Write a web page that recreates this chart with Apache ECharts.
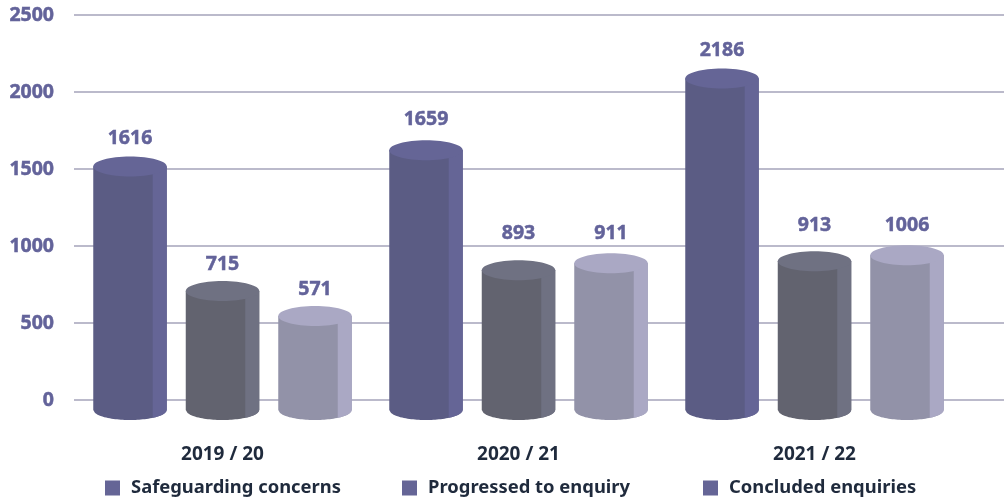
<!DOCTYPE html>
<html>
<head>
<meta charset="utf-8">
<style>html,body{margin:0;padding:0;background:#fff}#c{width:1004px;height:499px}</style>
<script src="https://cdn.jsdelivr.net/npm/echarts@6/dist/echarts.min.js"></script>
</head>
<body>
<div id="c"></div>
<script>
const categories = ['2019 / 20', '2020 / 21', '2021 / 22'];
const yTicks = { min: 0, max: 2500, interval: 500 };
const seriesNames = ['Safeguarding concerns', 'Progressed to enquiry', 'Concluded enquiries'];
// Printed value labels
const safeguardingLabels = [1616, 1659, 2186];
const progressedLabels = [715, 893, 913];
const concludedLabels = [571, 911, 1006];
// Drawn cylinder heights read against the axis (the picture's tops differ from its labels)
const safeguardingHeights = [1517, 1621, 2088];
const progressedHeights = [707, 843, 901];
const concludedHeights = [545, 888, 940];

const FONT = '"Noto Sans", sans-serif';
const LABEL = '#63639a';
const styles = [
  { dark: '#5b5c84', light: '#656596', offset: -0.3125, legend: '#656596', labelGaps: [27.5, 30.5, 28] },
  { dark: '#62636f', light: '#6f7182', offset: 0, legend: '#656596', labelGaps: [26.5, 36.5, 35.5] },
  { dark: '#9292a8', light: '#aaa8c4', offset: 0.3125, legend: '#656596', labelGaps: [26.5, 29.5, 29.5] }
];

function arcPoints(cx, cy, rx, ry, x0, x1) {
  const pts = [];
  const n = 40;
  for (let i = 0; i <= n; i++) {
    const x = x0 + (x1 - x0) * i / n;
    const t = Math.max(0, 1 - Math.pow((x - cx) / rx, 2));
    pts.push([x, cy + ry * Math.sqrt(t)]);
  }
  return pts;
}

function cylinder(style) {
  return function (params, api) {
    const band = api.size([1, 0])[0];
    const p = api.coord([api.value(0), api.value(1)]);
    const base = api.coord([api.value(0), 0]);
    const cx = p[0] + style.offset * band;
    const rx = 36.75, ry = 10;
    const topY = p[1], botY = base[1] + 10;
    const left = cx - rx, right = cx + rx, stripX = right - 14;
    const body = [[left, topY]].concat(arcPoints(cx, botY, rx, ry, left, right), [[right, topY]]);
    const strip = [[stripX, topY]].concat(arcPoints(cx, botY, rx, ry, stripX, right), [[right, topY]]);
    return {
      type: 'group',
      children: [
        { type: 'polygon', shape: { points: body }, style: { fill: style.dark } },
        { type: 'polygon', shape: { points: strip }, style: { fill: style.light } },
        { type: 'ellipse', shape: { cx: cx, cy: topY, rx: rx, ry: ry }, style: { fill: style.light } },
        { type: 'text', style: {
            x: cx, y: topY - style.labelGaps[params.dataIndex], text: String(api.value(2)),
            fill: LABEL, fontWeight: 'bold', fontSize: 19.5, fontFamily: FONT,
            stroke: LABEL, lineWidth: 0.5,
            align: 'center', verticalAlign: 'middle'
        } }
      ]
    };
  };
}

const heights = [safeguardingHeights, progressedHeights, concludedHeights];
const labels = [safeguardingLabels, progressedLabels, concludedLabels];
const legendLefts = [105, 402, 703];

const option = {
  animation: false,
  backgroundColor: '#fff',
  textStyle: { fontFamily: FONT },
  grid: [
    { left: 74, right: 0, top: 15, bottom: 99 },
    { left: 74.5, width: 888, top: 15, bottom: 99 }
  ],
  xAxis: [
    { type: 'value', gridIndex: 0, show: false, min: 0, max: 1 },
    { type: 'category', gridIndex: 1, data: categories,
      axisLine: { show: false }, axisTick: { show: false },
      axisLabel: { margin: 45, color: '#1f2a3c', fontSize: 19, fontWeight: 'bold', fontFamily: FONT } }
  ],
  yAxis: [
    { type: 'value', gridIndex: 0, min: yTicks.min, max: yTicks.max, interval: yTicks.interval,
      axisLine: { show: false }, axisTick: { show: false },
      splitLine: { show: true, lineStyle: { color: '#a5a3ba', width: 1.5 } },
      axisLabel: { margin: 20, color: LABEL, fontSize: 19.5, fontWeight: 'bold', fontFamily: FONT,
        textBorderColor: LABEL, textBorderWidth: 0.5,
        formatter: function (v) { return String(v); } } },
    { type: 'value', gridIndex: 1, show: false, min: yTicks.min, max: yTicks.max, interval: yTicks.interval,
      splitLine: { show: false } }
  ],
  legend: seriesNames.map((n, i) => ({
    data: [n], left: legendLefts[i], top: 479, orient: 'horizontal',
    icon: 'rect', itemWidth: 15, itemHeight: 15, itemGap: 0, padding: 0,
    selectedMode: false,
    textStyle: { color: '#1f2a3c', fontSize: 18.4, fontWeight: 'bold', fontFamily: FONT, padding: [0, 0, 0, 6] }
  })),
  series: seriesNames.map((n, i) => ({
    name: n,
    type: 'custom',
    xAxisIndex: 1,
    yAxisIndex: 1,
    clip: false,
    itemStyle: { color: styles[i].legend },
    encode: { x: 0, y: 1 },
    data: categories.map((c, j) => [c, heights[i][j], labels[i][j]]),
    renderItem: cylinder(styles[i])
  }))
};
echarts.init(document.getElementById('c'), null, { renderer: 'canvas' }).setOption(option);
</script>
</body>
</html>
